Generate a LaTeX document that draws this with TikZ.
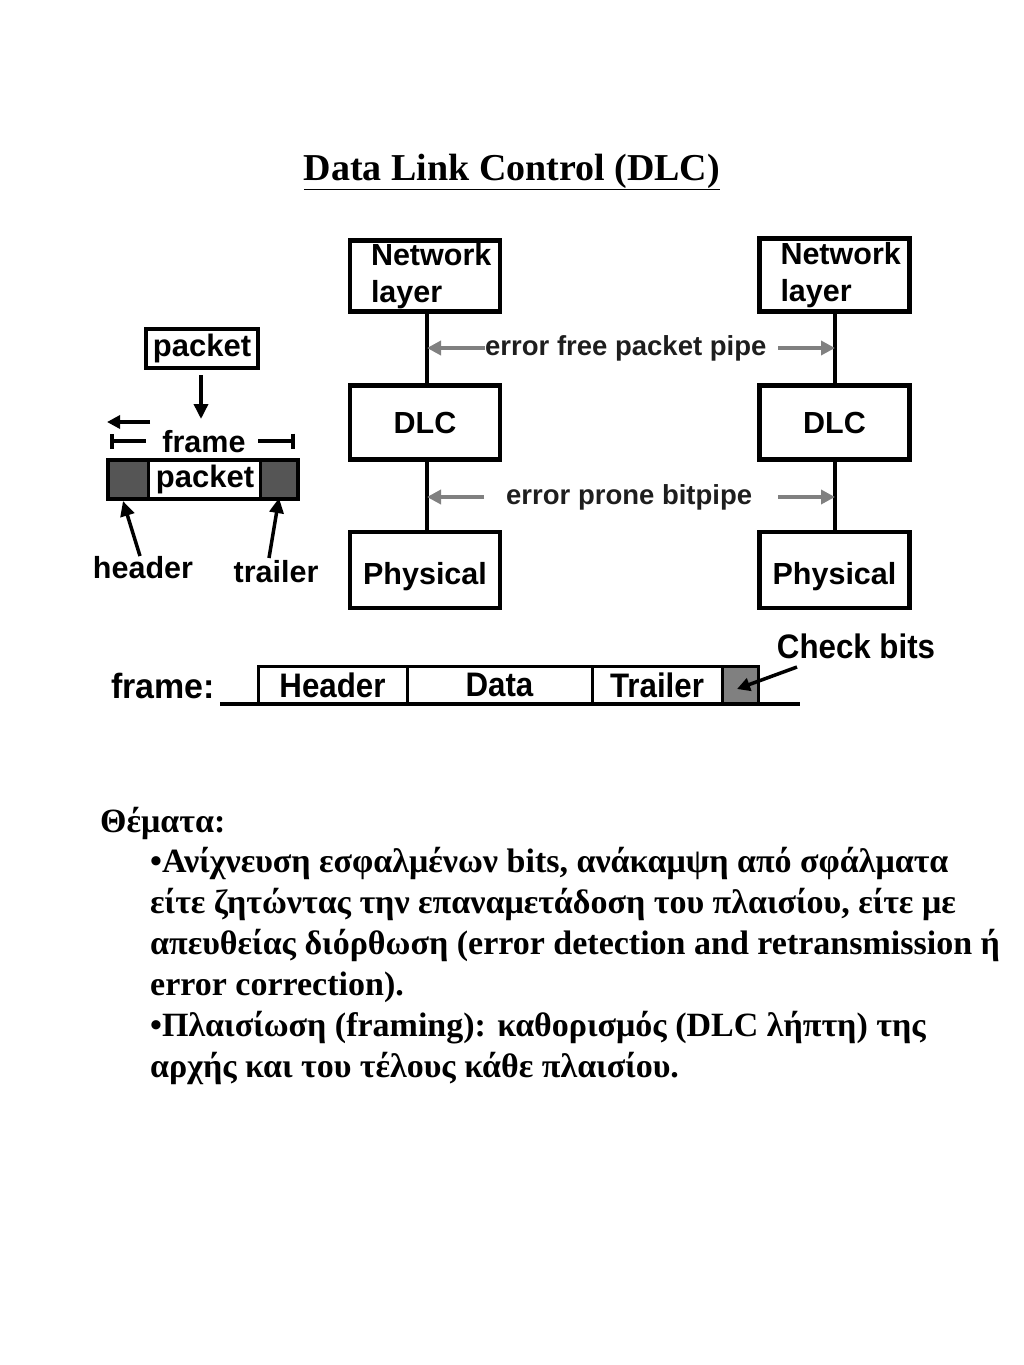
\documentclass[tikz,border=0pt]{standalone}
\usepackage{fontspec}
\setmainfont{Liberation Serif}
\setsansfont{Liberation Sans}
\usetikzlibrary{arrows.meta}
\tikzset{
  layerbox/.style={draw=black,line width=4.5pt,minimum width=150pt,minimum height=74pt,font=\sffamily\bfseries\fontsize{30.5}{37}\selectfont,inner sep=0pt},
  vline/.style={line width=4.5pt,black},
  grayarr/.style={line width=4pt,draw={rgb,255:red,128;green,128;blue,128},-{Triangle[length=14pt,width=14pt]}},
  pipelabel/.style={font=\sffamily\bfseries\fontsize{27.5}{30}\selectfont,text={rgb,255:red,30;green,30;blue,30},inner sep=0pt},
  blkarr/.style={line width=3.5pt,-{Triangle[length=15pt,width=14pt]}},
  smalllabel/.style={font=\sffamily\bfseries\fontsize{30.5}{32}\selectfont,inner sep=0pt},
  fieldbox/.style={draw=black,line width=3pt,minimum height=37pt,inner sep=0pt,font=\sffamily\bfseries\fontsize{34}{36}\selectfont},
  bodytext/.style={anchor=base west,inner sep=0pt,font=\bfseries\fontsize{34}{36}\selectfont},
}
\begin{document}
\begin{tikzpicture}[x=1pt,y=-1pt]
\useasboundingbox (0,0) rectangle (1024,1365);
% title
\node[inner sep=0pt,anchor=base,font=\bfseries\fontsize{38}{40}\selectfont] (title) at (512,180) {\underline{Data Link Control (DLC)}};

% left stack
\node[layerbox,align=left,text width=128pt,minimum height=71pt,anchor=north] (nl) at (425,238) {\hspace*{10pt}\vphantom{Ng}Network\\\hspace*{10pt}layer};
\node[layerbox,minimum height=74pt] (dl) at (425,422.5) {DLC};
\node[layerbox,minimum height=76pt,text depth=0pt,anchor=south] (pl) at (425,610) {\raisebox{-8pt}{Physical}};
% right stack
\node[layerbox,align=left,text width=128pt,minimum height=73pt,anchor=north] (nr) at (834.5,236) {\hspace*{10pt}\vphantom{Ng}Network\\\hspace*{10pt}layer};
\node[layerbox] (dr) at (834.5,422.5) {DLC};
\node[layerbox,minimum height=76pt,text depth=0pt,anchor=south] (pr) at (834.5,610) {\raisebox{-8pt}{Physical}};

\draw[vline] (nl.south -| 427,0) -- (dl.north -| 427,0);
\draw[vline] (dl.south -| 427,0) -- (pl.north -| 427,0);
\draw[vline] (nr.south -| 835,0) -- (dr.north -| 835,0);
\draw[vline] (dr.south -| 835,0) -- (pr.north -| 835,0);

% pipes
\node[pipelabel,anchor=west] (efp) at (485,348) {error free packet pipe};
\coordinate (efl) at (427,348);
\coordinate (efr) at (835,348);
\draw[grayarr] (efp.west) -- (efl);
\draw[grayarr] (778,348) -- (efr);
\node[pipelabel,anchor=west] (epb) at (506,497) {error prone bitpipe};
\coordinate (epl) at (427,497);
\coordinate (epr) at (835,497);
\draw[grayarr] (484,497) -- (epl);
\draw[grayarr] (778,497) -- (epr);

% left framing sketch
\node[draw=black,line width=4pt,minimum width=112pt,minimum height=39pt,inner sep=0pt,font=\sffamily\bfseries\fontsize{31}{32}\selectfont] (pk) at (202,348.5) {packet};
\coordinate (pkarr) at (201,419);
\draw[blkarr] (pk.south -| 201,0) ++(0,5) -- (pkarr);
\node[smalllabel] (fr) at (204,442) {frame};
\coordinate (fl) at (107,422);
\draw[line width=4pt,-{Triangle[length=13pt,width=13pt]}] (150,422) -- (fl);
\draw[line width=4pt,{Bar[width=15pt]}-] (110,441) -- (146,441);
\draw[line width=4pt,-{Bar[width=15pt]}] (258,441) -- (295,441);
\node[draw=black,line width=4pt,minimum width=190pt,minimum height=39pt,inner sep=0pt] (fbox) at (203,479.5) {};
\fill[fill={rgb,255:red,85;green,85;blue,85}] (110,462) rectangle (148,497);
\fill[fill={rgb,255:red,85;green,85;blue,85}] (260,462) rectangle (296,497);
\draw[line width=3pt] (148,462) -- (148,497);
\draw[line width=3pt] (260,462) -- (260,497);
\node[font=\sffamily\bfseries\fontsize{31}{32}\selectfont,inner sep=0pt] (pk2) at (205,479) {packet};
\node[smalllabel] (hd) at (143,568) {header};
\node[smalllabel] (tr) at (276,572) {trailer};
\coordinate (hdtip) at (123,501);
\coordinate (trtip) at (279,498);
\draw[blkarr] (140,556) -- (hdtip);
\draw[blkarr] (269,558) -- (trtip);

% frame format
\node[font=\sffamily\bfseries\fontsize{35}{36}\selectfont,inner sep=0pt,anchor=base east,xscale=0.97] (frl) at (215,698) {frame:};
\draw[line width=4pt] (220,704) -- (800,704);
\node[fieldbox,minimum width=149pt] (fh) at (332.5,685) {\scalebox{0.92}[1]{Header}};
\node[fieldbox,minimum width=185pt] (fd) at (499.5,685) {\scalebox{0.92}[1]{Data}};
\node[fieldbox,minimum width=130pt] (ft) at (657,685) {\scalebox{0.92}[1]{Trailer}};
\node[fieldbox,minimum width=36pt,fill={rgb,255:red,128;green,128;blue,128}] (fc) at (740,685) {};
\node[font=\sffamily\bfseries\fontsize{34}{36}\selectfont,inner sep=0pt,xscale=0.92] (cb) at (856,646) {Check bits};
\coordinate (cbtip) at (737,689);
\draw[line width=3.5pt,-{Triangle[length=13pt,width=13pt]}] (797,667) -- (cbtip);

% body text
\node[bodytext] (t0) at (100,832) {Θέματα:};
\node[bodytext] (t1) at (150,872) {•Ανίχνευση εσφαλμένων bits, ανάκαμψη από σφάλματα};
\node[bodytext] (t2) at (150,913) {είτε ζητώντας την επαναμετάδοση του πλαισίου, είτε με};
\node[bodytext] (t3) at (150,954) {απευθείας διόρθωση (error detection and retransmission ή};
\node[bodytext] (t4) at (150,995) {error correction).};
\node[bodytext] (t5) at (150,1036) {•Πλαισίωση (framing): καθορισμός (DLC λήπτη) της};
\node[bodytext] (t6) at (150,1077) {αρχής και του τέλους κάθε πλαισίου.};
\end{tikzpicture}
\end{document}
